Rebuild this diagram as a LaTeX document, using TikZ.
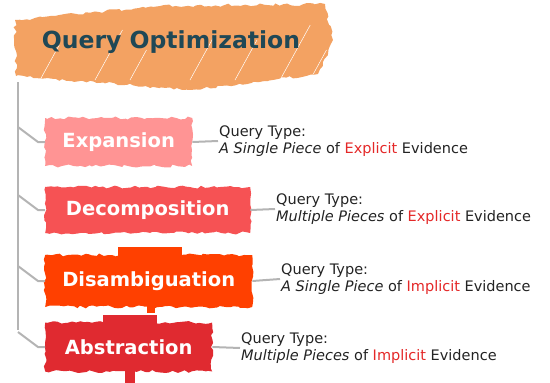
\documentclass[tikz,border=0pt]{standalone}
\usepackage{fontspec}
\setmainfont{DejaVu Sans}
\usetikzlibrary{decorations.pathmorphing}
\definecolor{titleOrange}{RGB}{243,162,98}
\definecolor{titleInk}{RGB}{31,72,86}
\definecolor{expPink}{RGB}{255,148,148}
\definecolor{decRed}{RGB}{246,82,84}
\definecolor{disOrange}{RGB}{255,64,0}
\definecolor{absRed}{RGB}{224,42,48}
\definecolor{branchGray}{RGB}{180,180,180}
\definecolor{noteInk}{RGB}{35,35,35}
\definecolor{hlRed}{RGB}{228,40,40}

\begin{document}
\begin{tikzpicture}[x=1pt, y=-1pt]
  \tikzstyle{sketch} = [decorate, decoration={random steps, segment length=4pt, amplitude=1.5pt}]
  \tikzstyle{method} = [sketch, text=white, font=\fontsize{19.5}{22}\selectfont\bfseries, inner sep=0pt, anchor=west]
  \tikzstyle{branch} = [branchGray, line width=2pt]
  \tikzstyle{note} = [font=\fontsize{14.5}{17}\selectfont, text=noteInk, align=left, anchor=west, inner sep=1pt]
  \useasboundingbox (0,0) rectangle (550,383);

  % Title
  \begin{scope}
    \path[sketch, clip] (15,20) -- (160,6) -- (325,4) -- (333,40) -- (318,74) -- (190,90) -- (16,76) -- cycle;
    \fill[titleOrange] (0,0) rectangle (340,95);
    \foreach \x/\l in {40/35,95/50,130/30,190/45,235/40,280/55,310/30}
      \draw[white, line width=0.5pt] (\x,80) -- ++(\l*0.55,-\l);
  \end{scope}
  \node[font=\fontsize{23.5}{26}\selectfont\bfseries, text=titleInk] (title) at (171,42) {Query Optimization};

  % Methods
  \node[method, fill=expPink, minimum width=147pt, minimum height=48pt] (exp) at (45,142) {Expansion};
  \node[method, fill=decRed, minimum width=205pt, minimum height=46pt] (dec) at (45,210) {Decomposition};
  \fill[disOrange] (118,247) rectangle (182,258);
  \fill[disOrange] (147,304) rectangle (155,313);
  \node[method, fill=disOrange, minimum width=207pt, minimum height=52pt] (dis) at (45,281) {Disambiguation};
  \fill[absRed] (103,315) rectangle (157,326);
  \fill[absRed] (125,369) rectangle (135,383);
  \node[method, fill=absRed, minimum width=167pt, minimum height=49pt] (abs) at (45,347) {Abstraction};

  % Query types
  \node[note] (expnote) at (218,141) {Query Type:\\\textit{A Single Piece} of \textcolor{hlRed}{Explicit} Evidence};
  \node[note] (decnote) at (275,209) {Query Type:\\\textit{Multiple Pieces} of \textcolor{hlRed}{Explicit} Evidence};
  \node[note] (disnote) at (280,279) {Query Type:\\\textit{A Single Piece} of \textcolor{hlRed}{Implicit} Evidence};
  \node[note] (absnote) at (240,348) {Query Type:\\\textit{Multiple Pieces} of \textcolor{hlRed}{Implicit} Evidence};

  % Tree
  \coordinate (top) at (18,82);
  \coordinate (bot) at (18,330);
  \coordinate (k1) at (18,127);
  \coordinate (k2) at (18,195);
  \coordinate (k3) at (18,266);
  \coordinate (k4) at (18,332);
  \draw[branch] (top) -- (bot);
  \draw[branch] (k1) -- ++(20,15) -- (exp.west);
  \draw[branch] (k2) -- ++(20,15) -- (dec.west);
  \draw[branch] (k3) -- ++(20,15) -- (dis.west);
  \draw[branch] (k4) -- ++(20,15) -- (abs.west);
  \draw[branch] (exp.east) -- (expnote.west);
  \draw[branch] (dec.east) -- (decnote.west);
  \draw[branch] (dis.east) -- (disnote.west);
  \draw[branch] (abs.east) -- (absnote.west);
\end{tikzpicture}
\end{document}
